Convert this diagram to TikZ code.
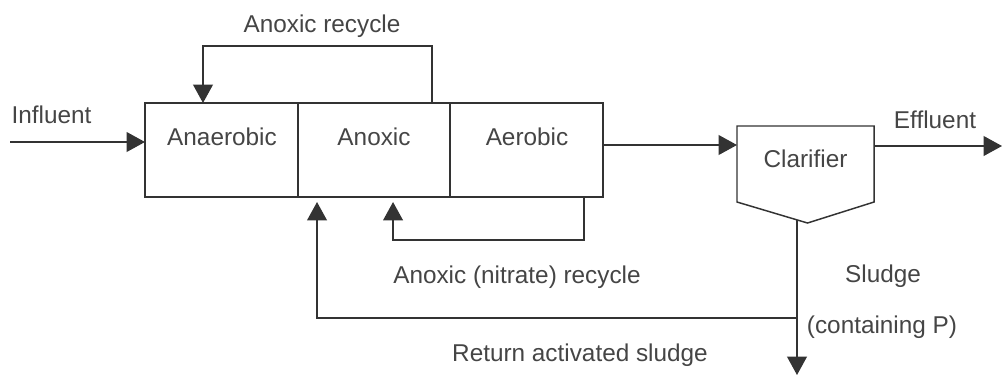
\documentclass[tikz,border=0pt]{standalone}
\usepackage{fontspec}
\setmainfont{Liberation Sans}
\usepackage{tikz}
\usetikzlibrary{arrows.meta, positioning, calc}
\definecolor{ink}{gray}{0.2}
\definecolor{txt}{gray}{0.27}

\begin{document}
\begin{tikzpicture}[x=0.025cm, y=-0.025cm,
  tank/.style={draw=ink, line width=1.05pt, minimum width=3.825cm, minimum height=2.35cm, outer sep=0pt, inner sep=0pt},
  flow/.style={draw=ink, line width=1.05pt, -{Triangle[length=13pt, width=14pt]}},
  lbl/.style={text=txt, font=\fontsize{17.3}{20}\selectfont, anchor=base, inner sep=0pt}]
  \useasboundingbox (0,0) rectangle (1003,376);
  % Reaktoren
  \node[tank] (anaerobic) at (221.5,150) {};
  \node[tank, minimum width=3.8cm, right=0pt of anaerobic] (anoxic) {};
  \node[tank, right=0pt of anoxic] (aerobic) {};
  \node[lbl] (anaerobicL) at (222,145) {Anaerobic};
  \node[lbl] (anoxicL) at (374,145) {Anoxic};
  \node[lbl] (aerobicL) at (527,145) {Aerobic};
  % Nachklaerbecken
  \node[minimum width=3.425cm, minimum height=1.9cm, outer sep=0pt, inner sep=0pt] (clar) at (805.5,164) {};
  \draw[ink, line width=1.05pt, line join=miter] (clar.south west) -- (clar.north west) -- (clar.north east)
    -- (clar.south east) -- ($(clar.south)+(2,21)$) -- cycle;
  \node[lbl] (clarL) at (805.5,167) {Clarifier};
  % Zu- und Ablauf
  \coordinate (inflow) at (10,142);
  \coordinate (outflow) at (1002,146);
  \draw[flow] (inflow) -- (anaerobic.west |- inflow);
  \node[lbl] (influentL) at (51.5,123) {Influent};
  \draw[flow] (aerobic.east |- 0,145) -- (clar.west |- 0,145);
  \draw[flow] (clar.east |- outflow) -- (outflow);
  \node[lbl] (effluentL) at (935,128) {Effluent};
  % Rueckfuehrungen
  \draw[flow] ($(anoxic.north)+(58,0)$) -- ++(0,-57) -| ($(anaerobic.north)+(-18.5,0)$);
  \node[lbl] (anoxrecL) at (322,32) {Anoxic recycle};
  \draw[flow] ($(aerobic.south)+(57.5,0)$) -- ++(0,43) -| ($(anoxic.south)+(19,5)$);
  \node[lbl] (nitrecL) at (517,283) {Anoxic (nitrate) recycle};
  % Schlamm
  \coordinate (sludge) at ($(clar.south)+(-8.5,18)$);
  \coordinate (sludgeout) at (797,375);
  \draw[flow] (sludge) -- (sludgeout);
  \draw[flow] (sludge |- 0,318) -| ($(anoxic.south west)+(19,5)$);
  \node[lbl] (sludgeL) at (883,282) {Sludge};
  \node[lbl] (containL) at (882,333) {(containing P)};
  \node[lbl] (rasL) at (580,361) {Return activated sludge};
\end{tikzpicture}
\end{document}
